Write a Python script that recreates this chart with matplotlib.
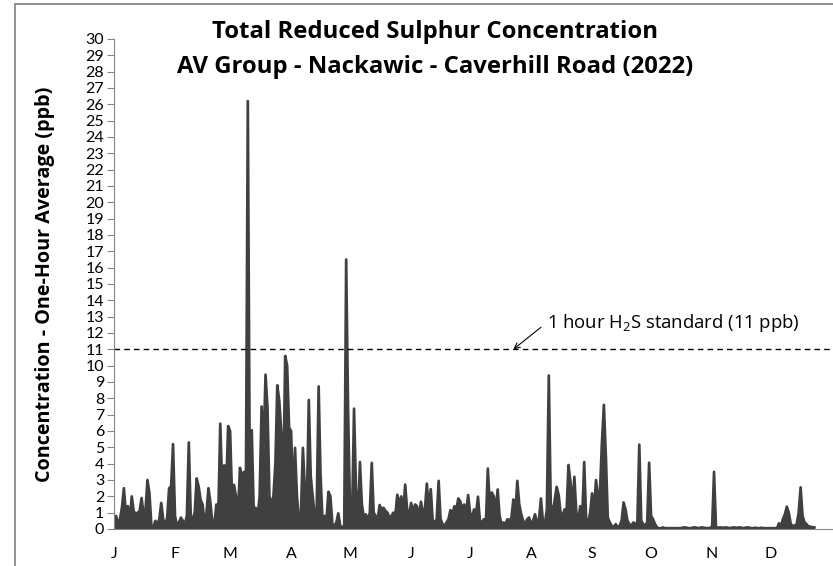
import numpy as np
import matplotlib.pyplot as plt
from matplotlib.patches import Rectangle

# daily peak one-hour TRS values (ppb)
jan = [0.3, 0.8, 0.4, 0.6, 1.3, 2.5, 1.0, 1.4, 0.6, 2.0, 1.1, 0.9, 1.0, 1.1, 1.9, 0.9,
       1.2, 3.0, 2.2, 0.2, 0.1, 0.5, 0.3, 0.6, 1.6, 0.6, 0.2, 0.7, 2.5, 2.6, 5.2]
feb = [0.8, 0.2, 0.4, 0.7, 0.5, 0.3, 0.8, 5.3, 0.8, 0.6, 1.0, 3.1, 2.6, 1.8, 1.5, 0.4,
       1.0, 2.5, 1.6, 0.4, 0.3, 1.5, 1.0, 6.45, 2.6, 3.9, 2.6, 6.3]
mar = [6.0, 2.0, 2.7, 2.0, 1.0, 3.75, 3.2, 3.5, 2.0, 26.2, 3.5, 6.05, 1.2, 1.3, 0.8, 2.0,
       7.5, 5.0, 9.45, 7.5, 2.0, 1.5, 2.0, 4.0, 8.8, 7.85, 6.0, 2.5, 10.6, 10.0, 6.2]
apr = [6.0, 2.0, 4.97, 2.0, 0.5, 1.0, 4.97, 2.5, 1.5, 7.9, 3.2, 2.0, 0.8, 1.2, 8.73, 3.2,
       0.5, 0.8, 0.6, 2.28, 2.0, 0.3, 0.2, 0.4, 0.96, 0.2, 0.1, 0.2, 16.5, 7.1]
may = [1.0, 0.8, 7.37, 2.5, 0.6, 4.1, 1.5, 0.7, 0.9, 0.5, 1.0, 4.05, 1.0, 0.8, 0.6, 1.47,
       1.2, 1.3, 1.1, 1.0, 0.7, 0.8, 1.0, 0.9, 2.1, 1.5, 2.0, 1.1, 2.72, 1.2, 0.8]
jun = [1.6, 1.0, 1.5, 1.4, 0.7, 1.67, 1.0, 1.2, 2.78, 1.3, 2.44, 0.5, 0.4, 0.6, 2.95, 0.6,
       0.3, 0.2, 0.4, 0.6, 1.16, 0.9, 1.4, 1.2, 1.87, 1.7, 1.2, 1.5, 1.0, 2.08]
jul = [1.0, 0.7, 1.2, 0.9, 1.98, 0.5, 0.4, 0.6, 0.3, 3.7, 1.5, 2.24, 2.0, 1.2, 2.42, 0.8,
       0.3, 0.4, 0.3, 0.6, 0.5, 0.7, 1.81, 1.0, 2.95, 1.5, 0.9, 0.5, 0.3, 0.6, 0.7]
aug = [0.3, 0.5, 0.9, 0.4, 0.6, 1.87, 0.5, 0.3, 1.2, 9.4, 1.5, 1.0, 1.8, 2.58, 2.1, 1.0,
       0.8, 1.2, 1.0, 3.92, 2.9, 1.5, 3.2, 1.0, 0.6, 1.4, 0.8, 4.1, 0.6, 0.4, 1.0]
sep = [2.18, 1.2, 3.0, 2.0, 2.28, 5.3, 7.6, 4.5, 0.7, 0.4, 0.2, 0.1, 0.3, 0.1, 0.2, 0.5,
       1.63, 1.2, 0.5, 0.3, 0.2, 0.4, 0.3, 0.4, 5.17, 0.5, 0.3, 0.2, 0.4, 4.06]
oct = [0.8, 0.6, 0.3, 0.1, 0.05, 0.05, 0.1, 0.05, 0.05, 0.05, 0.05, 0.05, 0.05, 0.05,
       0.05, 0.05, 0.08, 0.1, 0.08, 0.05, 0.05, 0.08, 0.1, 0.08, 0.05, 0.08, 0.1, 0.08,
       0.05, 0.05, 0.08]
nov = [0.1, 3.5, 0.1, 0.08, 0.1, 0.08, 0.08, 0.1, 0.08, 0.05, 0.08, 0.1, 0.08, 0.08,
       0.1, 0.08, 0.05, 0.08, 0.1, 0.08, 0.05, 0.05, 0.08, 0.05, 0.05, 0.08, 0.05, 0.05,
       0.05, 0.05]
dec = [0.05, 0.05, 0.05, 0.05, 0.35, 0.2, 0.6, 0.9, 1.37, 1.0, 0.3, 0.2, 0.2, 0.3, 1.0,
       2.55, 0.8, 0.4, 0.3, 0.15, 0.15, 0.1, 0.1, np.nan, np.nan, np.nan, np.nan, np.nan,
       np.nan, np.nan, np.nan]

month_labels = ['J', 'F', 'M', 'A', 'M', 'J', 'J', 'A', 'S', 'O', 'N', 'D']
standard_ppb = 11

months = [jan, feb, mar, apr, may, jun, jul, aug, sep, oct, nov, dec]
trs = np.concatenate([np.array(m, dtype=float) for m in months])
days = np.arange(len(trs))
month_starts = np.cumsum([0] + [len(m) for m in months[:-1]])

plt.rcParams['font.family'] = ['Lato', 'DejaVu Sans']
plt.rcParams['mathtext.fontset'] = 'custom'
plt.rcParams['mathtext.rm'] = 'Open Sans'
bold_font = ['Open Sans', 'DejaVu Sans']

fig = plt.figure(figsize=(8.33, 5.66), dpi=100)
ax = fig.add_axes([0.1369, 0.0654, 0.862, 0.8657])

# hourly data squeezed into ~2 px per day looks like a bar from 0 to the day's peak
ax.vlines(days, 0, trs, color='#404040', linewidth=1.5)
ax.plot(days, trs, color='#404040', linewidth=1.9)
ax.axhline(standard_ppb, color='black', linestyle=(0, (4, 3)), linewidth=1.0)

ax.annotate('', xy=(203, standard_ppb), xytext=(217, 12.35),
            arrowprops=dict(arrowstyle='->', color='black', lw=0.8,
                            shrinkA=0, shrinkB=0))
ax.text(220, 12.6, r'1 hour $\mathregular{H_2S}$ standard (11 ppb)', fontsize=13.3,
        va='center', ha='left', family=bold_font)

ax.set_xlim(0, 365)
ax.set_ylim(0, 30)
ax.set_yticks(range(0, 31))
ax.set_xticks(month_starts)
ax.set_xticklabels(month_labels)
ax.tick_params(axis='x', length=0, pad=13, labelsize=11.5)
ax.tick_params(axis='y', length=5, color='#868686', labelsize=11.5, pad=2)

for side in ['top', 'right']:
    ax.spines[side].set_visible(False)
ax.spines['left'].set_color('#868686')
ax.spines['bottom'].set_color('#868686')

ax.set_ylabel('Concentration - One-Hour Average (ppb)', fontsize=14.2,
              fontweight='bold', family=bold_font, labelpad=22)

fig.text(0.522, 0.943, 'Total Reduced Sulphur Concentration', ha='center',
         va='center', fontsize=17.2, fontweight='bold', family=bold_font)
fig.text(0.522, 0.881, 'AV Group - Nackawic - Caverhill Road (2022)', ha='center',
         va='center', fontsize=17.2, fontweight='bold', family=bold_font)

fig.patches.append(Rectangle((15 / 833, -0.1), 1.0, 1.1 - 4 / 566, transform=fig.transFigure,
                             fill=False, edgecolor='#7f7f7f', linewidth=1.2))

fig.savefig('out.png', dpi=100)
